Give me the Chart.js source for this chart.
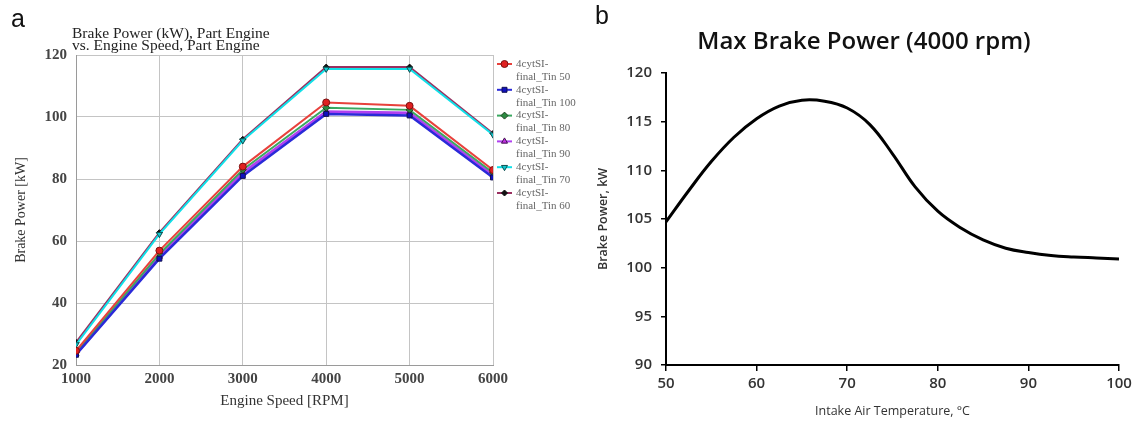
<!DOCTYPE html>
<html>
<head>
<meta charset="utf-8">
<script src="https://cdn.jsdelivr.net/npm/chart.js@4.4.0/dist/chart.umd.min.js"></script>
<style>
  body { margin: 0; background: #fff; }
  #wrap { position: relative; width: 1137px; height: 422px; overflow: hidden; }
  .panel { position: absolute; top: 0; height: 422px; }
  .tag { position: absolute; font: 25px "Liberation Sans", Arial, sans-serif; color: #111; }
  .ttlA { position: absolute; left: 72px; top: 27px; font: 15.5px "Liberation Serif", serif; line-height: 12px; color: #222; }
  .ttlB { position: absolute; left: 590px; width: 548px; top: 23px; text-align: center; font: 600 24px "Open Sans", sans-serif; color: #111; }
</style>
</head>
<body>
<div id="wrap">
  <div class="panel" style="left:0;width:590px"><canvas id="chartA"></canvas></div>
  <div class="panel" style="left:590px;width:547px"><canvas id="chartB"></canvas></div>
  <div class="tag" style="left:11px;top:4px">a</div>
  <div class="tag" style="left:595px;top:1px">b</div>
  <div class="ttlA">Brake Power (kW), Part Engine<br>vs. Engine Speed, Part Engine</div>
  <div class="ttlB">Max Brake Power (4000 rpm)</div>
</div>
<script>
// ==== DATA: panel a ====
const speeds = [1000, 2000, 3000, 4000, 5000, 6000];
const tin50  = [24.6, 56.9, 84.0, 104.7, 103.6, 82.9];
const tin100 = [23.3, 54.3, 81.0, 101.0, 100.5, 80.5];
const tin80  = [24.0, 55.8, 83.0, 103.0, 102.3, 82.0];
const tin90  = [23.6, 55.0, 82.0, 101.7, 101.3, 81.2];
const tin70  = [26.6, 62.2, 92.4, 115.5, 115.5, 94.3];
const tin60  = [27.3, 62.7, 92.8, 116.1, 116.1, 94.7];
const legendTop = '4cytSI-';
const seriesNames = ['final_Tin 50', 'final_Tin 100', 'final_Tin 80', 'final_Tin 90', 'final_Tin 70', 'final_Tin 60'];

// ==== DATA: panel b ====
const temps = [50, 52.5, 55, 57.5, 60, 62.5, 65, 67.5, 70, 72.5, 75, 77.5, 80, 82.5, 85, 87.5, 90, 92.5, 95, 97.5, 100];
const maxPower = [104.7, 107.9, 110.9, 113.4, 115.3, 116.6, 117.2, 117.1, 116.4, 114.7, 111.7, 108.3, 105.8, 104.1, 102.85, 102.0, 101.55, 101.25, 101.1, 101.0, 100.9];

const serif = '"Liberation Serif", "Times New Roman", serif';
const sans = '"Open Sans", "Liberation Sans", sans-serif';

function pts(ys) { return speeds.map((x, i) => ({ x, y: ys[i] })); }
const plain = v => String(v);

function series(label, ys, line, fill, edge, style, r, rot, w) {
  return {
    label, data: pts(ys),
    borderColor: line, borderWidth: w || 2,
    pointStyle: style, pointRadius: r, pointRotation: rot || 0,
    pointBackgroundColor: fill, pointBorderColor: edge, pointBorderWidth: 1,
    tension: 0
  };
}

// legend at the right of panel a (two-line labels)
const sideLegend = {
  id: 'sideLegend',
  afterDraw(chart) {
    const ctx = chart.ctx;
    const x0 = chart.chartArea.right + 4;
    ctx.save();
    chart.data.datasets.forEach((ds, i) => {
      const y = 64 + i * 25.8;
      ctx.strokeStyle = ds.borderColor;
      ctx.lineWidth = 2;
      ctx.beginPath(); ctx.moveTo(x0, y); ctx.lineTo(x0 + 15, y); ctx.stroke();
      ctx.fillStyle = ds.pointBackgroundColor;
      ctx.strokeStyle = ds.pointBorderColor;
      ctx.lineWidth = 1;
      Chart.helpers.drawPoint(ctx, { pointStyle: ds.pointStyle, radius: ds.pointRadius, borderWidth: 1, rotation: ds.pointRotation }, x0 + 7.5, y);
      ctx.fillStyle = '#666';
      ctx.font = '11px ' + serif;
      ctx.textBaseline = 'middle';
      ctx.textAlign = 'left';
      ctx.fillText(legendTop, x0 + 19, y);
      ctx.fillText(seriesNames[i], x0 + 19, y + 13);
    });
    ctx.restore();
  }
};

new Chart(document.getElementById('chartA'), {
  type: 'line',
  data: {
    datasets: [
      series(seriesNames[0], tin50, '#e8413c', '#e02020', '#7a1010', 'circle', 3.5),
      series(seriesNames[1], tin100, '#2a2ad8', '#1010c0', '#101050', 'rect', 3.5, 0, 2.5),
      series(seriesNames[2], tin80, '#3aa860', '#2a8a40', '#204020', 'rectRot', 3.5),
      series(seriesNames[3], tin90, '#b040f0', '#c030e0', '#401050', 'triangle', 3.5, 0, 3),
      series(seriesNames[4], tin70, '#10e0e8', '#10c8d0', '#105050', 'triangle', 3.5, 180),
      series(seriesNames[5], tin60, '#9a3060', '#111', '#111', 'rectRot', 3)
    ]
  },
  options: {
    responsive: true, maintainAspectRatio: false, animation: false,
    layout: { padding: { top: 55, right: 97, left: 0, bottom: 0 } },
    plugins: { legend: { display: false }, tooltip: { enabled: false } },
    scales: {
      x: {
        type: 'linear', min: 1000, max: 6000,
        afterFit: s => { s.height = 57; },
        ticks: { stepSize: 1000, padding: 5, color: '#444', callback: plain, font: { family: serif, size: 15, weight: 'bold' } },
        grid: { color: '#c4c4c4', drawTicks: false },
        border: { color: '#9a9a9a' },
        title: { display: true, text: 'Engine Speed [RPM]', color: '#333', font: { family: serif, size: 15 }, padding: { top: 4, bottom: 12 } }
      },
      y: {
        min: 20, max: 120,
        afterFit: s => { s.width = 76; },
        ticks: { stepSize: 20, padding: 9, color: '#444', callback: plain, font: { family: serif, size: 15, weight: 'bold' } },
        grid: { color: '#c4c4c4', drawTicks: false },
        border: { color: '#9a9a9a' },
        title: { display: true, text: 'Brake Power [kW]', color: '#333', font: { family: serif, size: 14 }, padding: { top: 13 } }
      }
    }
  },
  plugins: [sideLegend]
});

new Chart(document.getElementById('chartB'), {
  type: 'line',
  data: {
    datasets: [{
      data: temps.map((t, i) => ({ x: t, y: maxPower[i] })),
      borderColor: '#000', borderWidth: 3, pointRadius: 0,
      tension: 0.4
    }]
  },
  options: {
    responsive: true, maintainAspectRatio: false, animation: false,
    layout: { padding: { top: 73, right: 18, left: 0, bottom: 0 } },
    plugins: { legend: { display: false }, tooltip: { enabled: false } },
    scales: {
      x: {
        type: 'linear', min: 50, max: 100,
        afterFit: s => { s.height = 57; },
        ticks: { stepSize: 10, padding: 4, color: '#333', font: { family: sans, size: 15, weight: '600' } },
        grid: { drawOnChartArea: false, drawTicks: true, tickLength: 6, color: '#000', lineWidth: 1.5 },
        border: { color: '#000', width: 2 },
        title: { display: true, text: 'Intake Air Temperature, °C', color: '#333', font: { family: sans, size: 12.5 }, padding: { top: 4, bottom: 3 } }
      },
      y: {
        min: 90, max: 120,
        afterFit: s => { s.width = 76; },
        ticks: { stepSize: 5, padding: 9, color: '#333', font: { family: sans, size: 15, weight: '600' } },
        grid: { drawOnChartArea: false, drawTicks: true, tickLength: 5, color: '#000', lineWidth: 1.5 },
        border: { color: '#000', width: 2 },
        title: { display: true, text: 'Brake Power, kW', color: '#333', font: { family: sans, size: 12.5, weight: '600' }, padding: { top: 6 } }
      }
    }
  }
});
</script>
</body>
</html>
